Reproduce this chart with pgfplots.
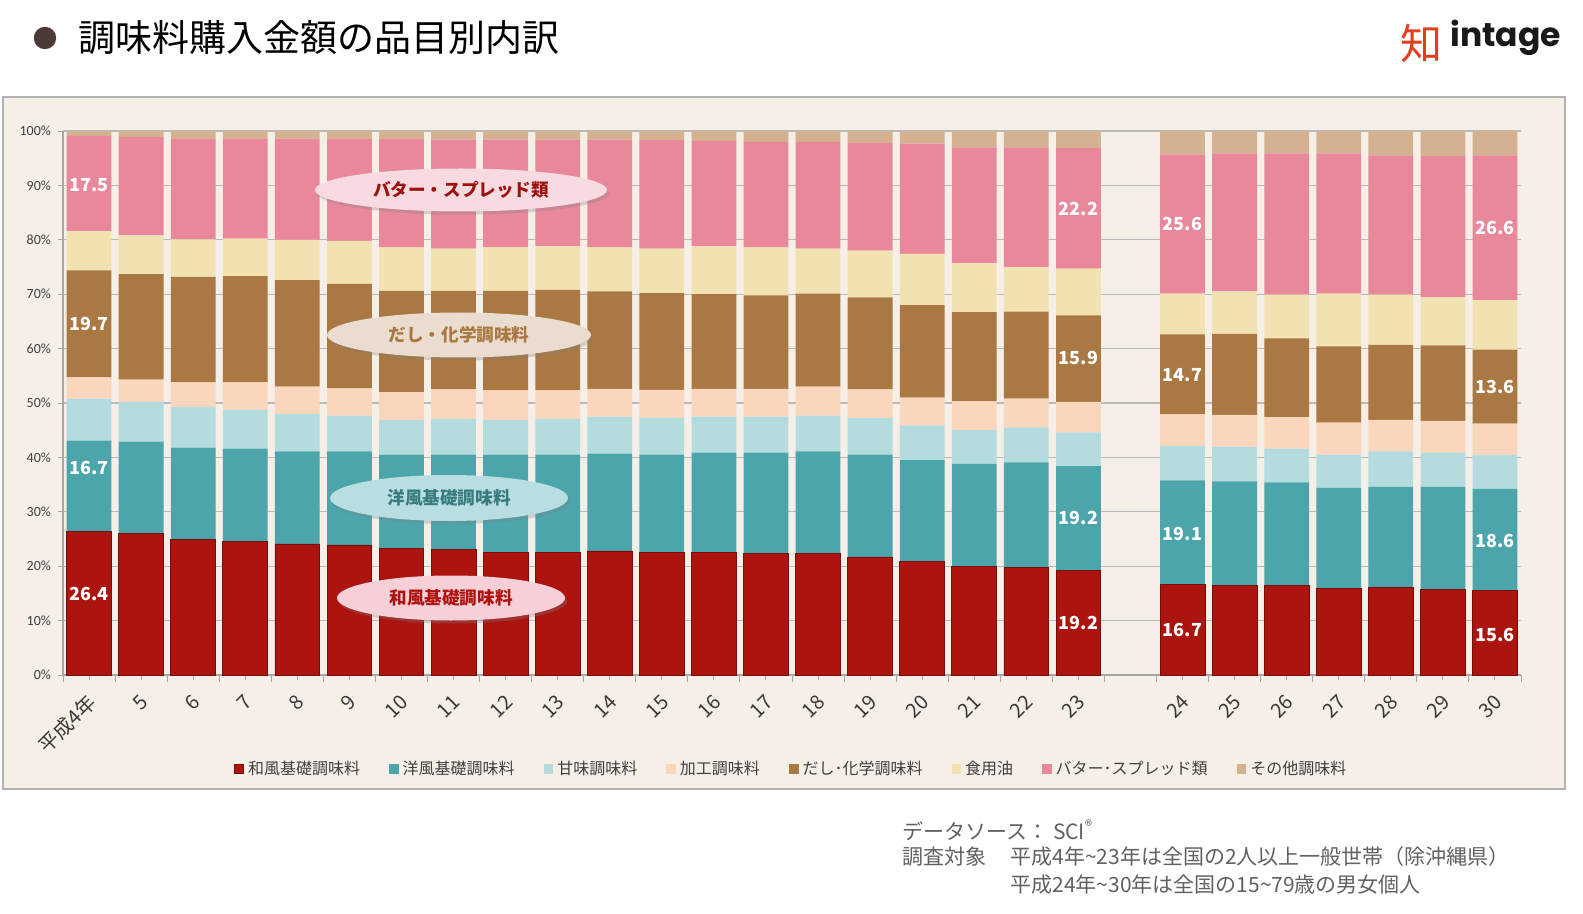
\documentclass[border=0pt]{standalone}
\usepackage{fontspec}
\setmainfont{Noto Sans CJK JP}
\newfontfamily\carlito{Carlito}
\newfontfamily\poppins{Poppins}
\usepackage{pgfplots}
\pgfplotsset{compat=1.18}
\usepackage{pgfplotstable}
\usetikzlibrary{shapes.geometric,shadows}

\definecolor{cWa}{HTML}{AC1410}
\definecolor{cYo}{HTML}{4BA5AB}
\definecolor{cAma}{HTML}{B4DCDF}
\definecolor{cKako}{HTML}{FAD6BC}
\definecolor{cDashi}{HTML}{AA7842}
\definecolor{cOil}{HTML}{F2E2B2}
\definecolor{cButter}{HTML}{E8889A}
\definecolor{cOther}{HTML}{D4B190}
\definecolor{bg}{HTML}{F6EFE8}
\definecolor{txt}{HTML}{404040}
\definecolor{bullet}{HTML}{4B3A37}
\definecolor{logored}{HTML}{E0401E}

\pgfplotstableread{
x wa yo ama kako dashi oil butter other
0 26.4 16.7 7.7 3.9 19.7 7.2 17.5 0.9
1 26.0 16.9 7.3 4.1 19.4 7.1 18.1 1.1
2 24.9 16.9 7.5 4.5 19.4 6.9 18.4 1.5
3 24.5 17.1 7.2 5.0 19.5 6.9 18.3 1.5
4 24.1 17.0 6.9 5.0 19.6 7.4 18.6 1.4
5 23.9 17.2 6.6 5.0 19.2 7.9 18.7 1.5
6 23.3 17.2 6.4 5.1 18.6 8.0 19.9 1.5
7 23.0 17.5 6.6 5.4 18.1 7.8 20.0 1.6
8 22.6 17.9 6.4 5.4 18.3 8.0 19.8 1.6
9 22.6 17.9 6.6 5.2 18.5 8.0 19.6 1.6
10 22.8 17.9 6.8 5.1 17.9 8.1 19.8 1.6
11 22.5 18.0 6.8 5.1 17.8 8.2 19.9 1.7
12 22.5 18.4 6.6 5.1 17.4 8.8 19.4 1.8
13 22.3 18.6 6.6 5.1 17.2 8.8 19.4 2.0
14 22.3 18.8 6.6 5.3 17.1 8.3 19.6 2.0
15 21.7 18.8 6.7 5.3 16.9 8.6 19.8 2.2
16 20.8 18.7 6.4 5.1 17.0 9.4 20.3 2.3
17 20.0 18.8 6.2 5.3 16.4 9.0 21.3 3.0
18 19.7 19.4 6.4 5.3 16.0 8.2 22.0 3.0
19 19.2 19.2 6.2 5.6 15.9 8.6 22.2 3.1
21 16.7 19.1 6.3 5.8 14.7 7.5 25.6 4.3
22 16.5 19.1 6.4 5.8 14.9 7.8 25.4 4.1
23 16.4 19.0 6.2 5.8 14.5 8.0 26.0 4.1
24 15.9 18.5 6.1 5.9 14.0 9.7 25.8 4.1
25 16.1 18.5 6.5 5.8 13.8 9.2 25.6 4.5
26 15.7 18.9 6.3 5.8 13.9 8.8 26.0 4.6
27 15.6 18.6 6.2 5.8 13.6 9.1 26.6 4.5
}\tabdata

\begin{document}
\begin{tikzpicture}
\path[use as bounding box] (0,0) rectangle (791.5pt,-457pt);
\fill[white] (0,0) rectangle (791.5pt,-457pt);
\filldraw[fill=bg, draw=gray!60, line width=0.6pt] (1.5pt,-48.5pt) rectangle (782.5pt,-394.5pt);

% title
\fill[bullet] (22.5pt,-19pt) circle (5.6pt);
\node[anchor=west, inner sep=0pt, font=\fontsize{18.5}{20}\selectfont, text=black] at (39pt,-19pt) {調味料購入金額の品目別内訳};

% logo
\node[text=logored, font=\fontsize{21}{21}\selectfont, inner sep=0pt] at (710.5pt,-21.5pt) {知};
\node[anchor=west, inner sep=0pt, font=\poppins\bfseries\fontsize{16.5}{18}\selectfont, text=black!90] at (725pt,-19pt) {intage};

\begin{axis}[
  at={(31.5pt,-337.5pt)}, anchor=south west,
  width=729pt, height=272pt, scale only axis,
  ybar stacked, bar width=0.86,
  xmin=-0.5, xmax=27.5, ymin=0, ymax=100,
  axis x line*=bottom, axis y line*=left,
  axis line style={-, draw=gray!70, line width=0.6pt},
  ytick={0,10,...,100},
  yticklabels={0\%,10\%,20\%,30\%,40\%,50\%,60\%,70\%,80\%,90\%,100\%},
  yticklabel style={font=\carlito\fontsize{7}{8}\selectfont, text=txt},
  ymajorgrids, grid style={draw=gray!55, line width=0.6pt},
  xtick={0,1,...,19,21,22,...,27},
  xticklabels={平成4年,5,6,7,8,9,10,11,12,13,14,15,16,17,18,19,20,21,22,23,24,25,26,27,28,29,30},
  minor xtick={-0.5,0.5,...,27.5},
  tick align=outside,
  major tick length=2.5pt, minor tick length=3.5pt,
  tick style={draw=gray!70, line width=0.5pt},
  xticklabel style={xshift=2.4pt, yshift=-8.6pt, rotate=45, anchor=east, inner sep=1pt, font=\fontsize{10}{11}\selectfont, text=txt!90!black},
  legend style={at={(0.5,-0.1728)}, anchor=center, draw=none, fill=none,
    legend columns=-1, font=\fontsize{8}{9}\selectfont, text=txt,
    /tikz/every even column/.append style={column sep=12.5pt}},
  legend cell align=left,
  legend image code/.code={\fill[#1] (0pt,-2.4pt) rectangle (4.8pt,2.4pt);},
  clip=false,
]
\addplot[fill=cWa, draw=cWa!70!black, line width=0.4pt] table[x=x,y=wa]{\tabdata};
\addplot[fill=cYo, draw=none] table[x=x,y=yo]{\tabdata};
\addplot[fill=cAma, draw=none] table[x=x,y=ama]{\tabdata};
\addplot[fill=cKako, draw=none] table[x=x,y=kako]{\tabdata};
\addplot[fill=cDashi, draw=none] table[x=x,y=dashi]{\tabdata};
\addplot[fill=cOil, draw=none] table[x=x,y=oil]{\tabdata};
\addplot[fill=cButter, draw=none] table[x=x,y=butter]{\tabdata};
\addplot[fill=cOther, draw=none] table[x=x,y=other]{\tabdata};
\legend{和風基礎調味料,洋風基礎調味料,甘味調味料,加工調味料,だし･化学調味料,食用油,バター･スプレッド類,その他調味料}

\coordinate (l01) at (axis cs:0,14.9);
\coordinate (l02) at (axis cs:0,38.1);
\coordinate (l03) at (axis cs:0,64.5);
\coordinate (l04) at (axis cs:0,90.1);
\coordinate (l05) at (axis cs:19,9.5);
\coordinate (l06) at (axis cs:19,28.8);
\coordinate (l07) at (axis cs:19,58.2);
\coordinate (l08) at (axis cs:19,85.7);
\coordinate (l09) at (axis cs:21,8.2);
\coordinate (l10) at (axis cs:21,26.0);
\coordinate (l11) at (axis cs:21,55.2);
\coordinate (l12) at (axis cs:21,82.9);
\coordinate (l13) at (axis cs:27,7.4);
\coordinate (l14) at (axis cs:27,24.7);
\coordinate (l15) at (axis cs:27,53.0);
\coordinate (l16) at (axis cs:27,82.2);
\end{axis}

% data labels
\begin{scope}[every node/.style={text=white, font=\bfseries\fontsize{9}{10}\selectfont, inner sep=0pt}]
\node at (l01) {26.4};
\node at (l02) {16.7};
\node at (l03) {19.7};
\node at (l04) {17.5};
\node at (l05) {19.2};
\node at (l06) {19.2};
\node at (l07) {15.9};
\node at (l08) {22.2};
\node at (l09) {16.7};
\node at (l10) {19.1};
\node at (l11) {14.7};
\node at (l12) {25.6};
\node at (l13) {15.6};
\node at (l14) {18.6};
\node at (l15) {13.6};
\node at (l16) {26.6};
\end{scope}

% callout ellipses
\begin{scope}[every node/.style={ellipse, inner sep=0pt, font=\bfseries\fontsize{8.8}{10}\selectfont,
    drop shadow={opacity=0.3, shadow xshift=1pt, shadow yshift=-1.5pt}}]
\node[fill=cButter!30!white, text=cWa!90!black, minimum width=146pt, minimum height=21.5pt] at (230.5pt,-95pt) {バター・スプレッド類};
\node[fill=cDashi!25!white, text=cDashi, minimum width=132pt, minimum height=22.5pt] at (229.5pt,-167.5pt) {だし・化学調味料};
\node[fill=cAma!95!white, text=cYo!75!black, minimum width=119pt, minimum height=23pt] at (224.5pt,-249pt) {洋風基礎調味料};
\node[fill=cButter!40!white, text=cWa!95!red, minimum width=114pt, minimum height=22.5pt] at (225.5pt,-299pt) {和風基礎調味料};
\end{scope}

% footnotes
\begin{scope}[every node/.style={anchor=west, inner sep=0pt, text=black!62, font=\fontsize{10.5}{12}\selectfont}]
\node at (451pt,-415pt) {データソース： SCI\textsuperscript{®}};
\node at (451pt,-428.5pt) {調査対象};
\node at (505pt,-428.5pt) {平成4年\textasciitilde 23年は全国の2人以上一般世帯（除沖縄県）};
\node at (505pt,-442.5pt) {平成24年\textasciitilde 30年は全国の15\textasciitilde 79歳の男女個人};
\end{scope}
\end{tikzpicture}
\end{document}
